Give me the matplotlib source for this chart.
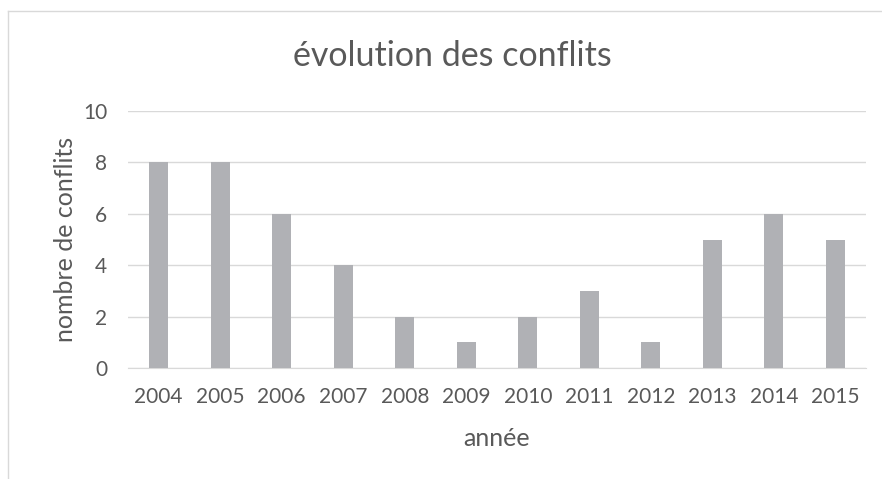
import matplotlib.pyplot as plt
from matplotlib.lines import Line2D

# conflicts per year
annees = ['2004', '2005', '2006', '2007', '2008', '2009', '2010', '2011', '2012', '2013', '2014', '2015']
conflits = [8, 8, 6, 4, 2, 1, 2, 3, 1, 5, 6, 5]

plt.rcParams['font.family'] = ['Lato', 'DejaVu Sans']
gris = '#595959'

fig = plt.figure(figsize=(8.82, 4.79), dpi=100)
ax = fig.add_axes([0.145, 0.232, 0.837, 0.536])

x = range(len(annees))
ax.bar(x, conflits, width=0.31, color='#B0B1B5', zorder=3)

ax.set_xlim(-0.5, len(annees) - 0.5)
ax.set_ylim(0, 10)
ax.set_yticks(range(0, 11, 2))
ax.set_xticks(list(x))
ax.set_xticklabels(annees)
ax.grid(axis='y', color='#D9D9D9', linewidth=1, zorder=0)
for s in ['top', 'right', 'left']:
    ax.spines[s].set_visible(False)
ax.spines['bottom'].set_color('#D9D9D9')
ax.tick_params(length=0, labelsize=15, labelcolor=gris)
ax.tick_params(axis='x', pad=14)
ax.tick_params(axis='y', pad=15)

# title is centred on the whole chart area, not the plot area
fig.text(452 / 882, 1 - 66 / 479, 'évolution des conflits', fontsize=24.5,
         color=gris, ha='center', va='baseline')
ax.set_ylabel('nombre de conflits', fontsize=18, color=gris, labelpad=4)
ax.set_xlabel('année', fontsize=18, color=gris, labelpad=14)

# chart border (partly outside the image)
x0 = 8 / 882
y0 = 1 - 11 / 479
fig.add_artist(Line2D([x0, x0], [0, y0], transform=fig.transFigure, color='#D9D9D9', linewidth=1))
fig.add_artist(Line2D([x0, 1], [y0, y0], transform=fig.transFigure, color='#D9D9D9', linewidth=1))

fig.savefig('out.png', dpi=100, facecolor='white')
